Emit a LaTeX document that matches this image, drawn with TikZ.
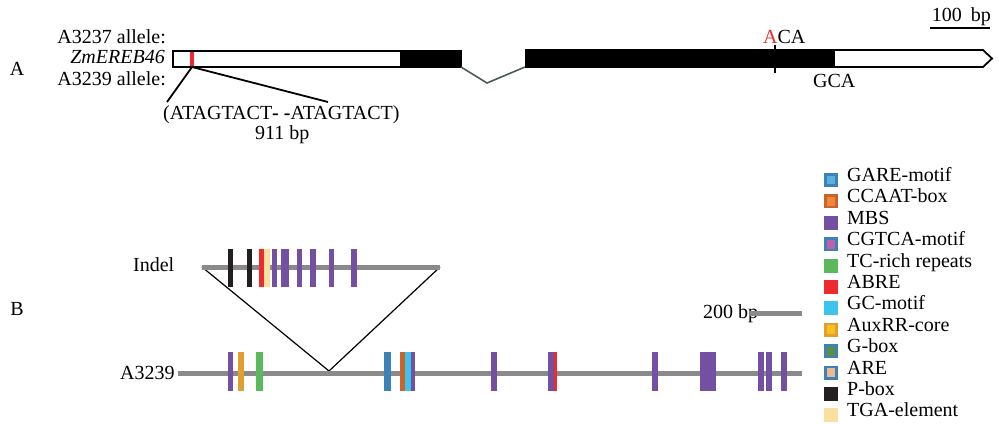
\documentclass[tikz,border=0pt]{standalone}
\usepackage{fontspec}
\setmainfont{Liberation Serif}
\definecolor{cpur}{HTML}{7350A2}
\definecolor{cred}{HTML}{ED2A2E}
\definecolor{cgrn}{HTML}{5BB85C}
\definecolor{caux}{HTML}{E0A030}
\definecolor{cauxin}{HTML}{F8C020}
\definecolor{cblu}{HTML}{3C82B4}
\definecolor{cltblu}{HTML}{5AAEE0}
\definecolor{ccaat}{HTML}{C8642C}
\definecolor{ccaatin}{HTML}{F0883A}
\definecolor{ccyan}{HTML}{3EC3EC}
\definecolor{cpink}{HTML}{C060A8}
\definecolor{colive}{HTML}{5A9040}
\definecolor{cpeach}{HTML}{F0B890}
\definecolor{cblk}{HTML}{231F20}
\definecolor{ctga}{HTML}{F8E0A0}
\definecolor{cline}{HTML}{8A8A8A}
\definecolor{cintron}{HTML}{4A5A58}
\begin{document}
\begin{tikzpicture}[x=1pt,y=-1pt,
  font=\fontsize{20}{24}\selectfont,
  txt/.style={inner sep=0pt},
  track/.style={draw=cline,line width=5pt},
  outline/.style={draw=black,line width=1.8pt},
  connector/.style={draw=black,line width=1.8pt},
  sq/.style={line width=2.6pt}]
\useasboundingbox (0,0) rectangle (999,429);

% ---------- Part A ----------
\node[txt,anchor=base] (lA) at (17,75) {A};
\node[txt,anchor=base east] (a3237) at (166,43) {A3237 allele:};
\node[txt,anchor=base east] (gene) at (165,63) {\itshape ZmEREB46};
\node[txt,anchor=base east] (a3239a) at (166,85) {A3239 allele:};

% exon 1 (UTR + coding)
\filldraw[fill=white,outline] (173,51) rectangle (461,67);
\fill[black] (400,50) rectangle (461,68);
\fill[cred] (189.5,52) rectangle (194,66);
\coordinate (ind) at (192,67);
% intron
\coordinate (i1) at (461,67);
\coordinate (i2) at (487,83);
\coordinate (i3) at (525,67);
\draw[cintron,line width=1.6pt] (i1) -- (i2) -- (i3);
% exon 2
\draw[outline,fill=white] (834,50) -- (983,50) -- (992,58.5) -- (983,67) -- (834,67) -- cycle;
\fill[black] (525,49) rectangle (834,68);
% SNP tick
\coordinate (snpT) at (775,45);
\coordinate (snpB) at (775,73);
\draw[black,line width=1.6pt] (snpT) -- (snpB);
\node[txt,anchor=base west] (aca) at (763,43) {\textcolor{cred}{A}CA};
\node[txt,anchor=base west] (gca) at (813,87) {GCA};
% scale bar
\node[txt,anchor=base east] (bp100) at (991,21) {100\hspace{0.45em}bp};
\coordinate (sb1) at (930,28);
\coordinate (sb2) at (990,28);
\draw[black,line width=2pt] (sb1) -- (sb2);
% indel callout
\node[txt,anchor=base west] (seq) at (163,119) {(ATAGTACT{\bfseries -} {\bfseries -}ATAGTACT)};
\node[txt,anchor=base west] (bp911) at (255,139) {911 bp};
\coordinate (cl) at (167,102);
\coordinate (cr) at (328,102);
\draw[connector] (cl) -- (ind) -- (cr);

% ---------- Part B ----------
\node[txt,anchor=base] (lB) at (17,315) {B};
\node[txt,anchor=base west] (indel) at (133,271) {Indel};
\node[txt,anchor=base west] (a3239b) at (120,379) {A3239};

\coordinate (il) at (202,267);
\coordinate (ir) at (440,267);
\coordinate (apex) at (329,371);
\draw[black,line width=1.2pt] (il) -- (apex) -- (ir);

\draw[track] (il) -- (ir);
\coordinate (ml) at (178,373);
\coordinate (mr) at (802,373);
\draw[track] (ml) -- (mr);

% indel bars
\foreach \a/\b/\c in {228/233/cblk,247/252/cblk,259/263.5/cred,263.5/270/ctga,
  272/277/cpur,281/289/cpur,297/302/cpur,310/316/cpur,329/334/cpur,351/357/cpur}
  \fill[\c] (\a,249) rectangle (\b,287);

% main bars
\foreach \a/\b/\c in {228/233/cpur,238/244/caux,256/263/cgrn,384/391/cblu,
  400/405/ccaat,405/411/ccyan,411/415/cpur,491/497/cpur,548/554/cpur,554/557/cred,
  652/658/cpur,700/716/cpur,758/764/cpur,766/772/cpur,781/787/cpur}
  \fill[\c] (\a,352) rectangle (\b,391);

% 200 bp scale
\node[txt,anchor=base west] (bp200) at (703,318) {200 bp};
\coordinate (s2a) at (750,313);
\coordinate (s2b) at (802,313);
\draw[track] (s2a) -- (s2b);

% legend
\foreach \i/\t in {0/GARE-motif,1/CCAAT-box,2/MBS,3/CGTCA-motif,4/TC-rich repeats,5/ABRE,
  6/GC-motif,7/AuxRR-core,8/G-box,9/ARE,10/P-box,11/TGA-element}
  \node[txt,anchor=base west] (lg\i) at (847,{181.5+21.4*\i}) {\t};

\foreach \i/\o/\n in {0/cblu/cltblu,1/ccaat/ccaatin,2/cpur/cpur,3/cblu/cpink,4/cgrn/cgrn,
  5/cred/cred,6/ccyan/ccyan,7/caux/cauxin,8/cblu/colive,9/cblu/cpeach,10/cblk/cblk,11/ctga/ctga}
  \filldraw[sq,draw=\o,fill=\n] (825.3,{180+21.4*\i-5.7}) rectangle (836.7,{180+21.4*\i+5.7});
\end{tikzpicture}
\end{document}
